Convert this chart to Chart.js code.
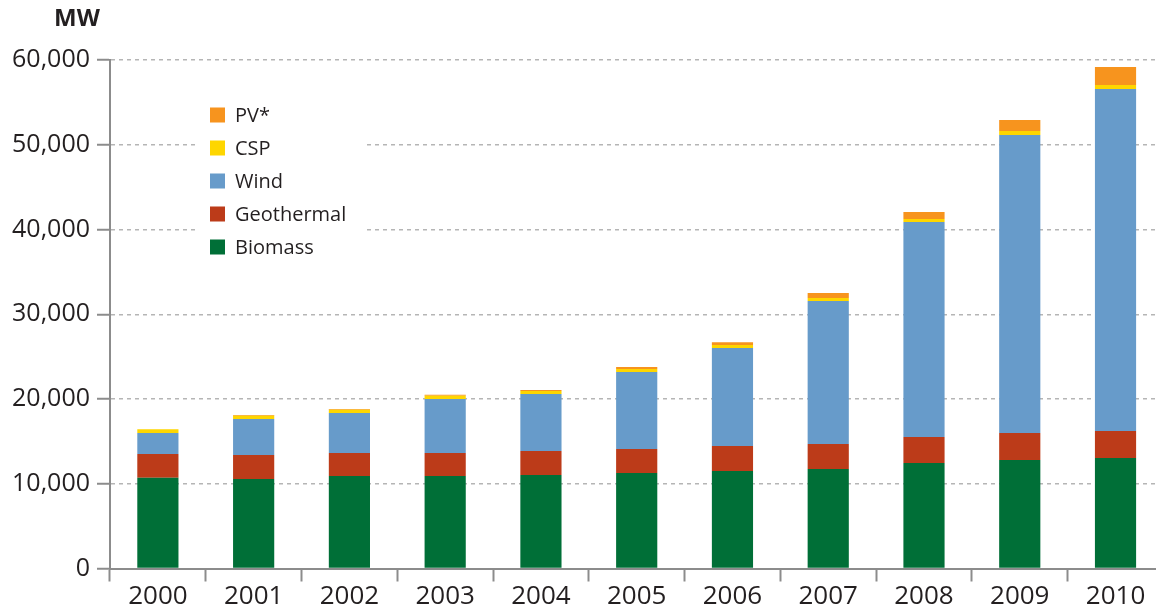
<!DOCTYPE html>
<html lang="en">
<head>
    <meta charset="UTF-8">
    <title>Renewable capacity (MW)</title>
    <script src="https://cdn.jsdelivr.net/npm/chart.js"></script>
    <style>
        body {
            margin: 0;
            padding: 0;
            background: #ffffff;
            overflow: hidden;
        }
        .wrap {
            width: 1170px;
            height: 606px;
        }
    </style>
</head>
<body>
    <div class="wrap"><canvas id="capacityChart"></canvas></div>

    <script>
        // values (MW)
        const years = ["2000", "2001", "2002", "2003", "2004", "2005", "2006", "2007", "2008", "2009", "2010"];
        const biomass = [10700, 10560, 10910, 10910, 11030, 11270, 11500, 11740, 12450, 12800, 13040];
        const geothermal = [2800, 2830, 2710, 2710, 2830, 2830, 2950, 2950, 3070, 3190, 3190];
        const wind = [2480, 4250, 4720, 6370, 6730, 9090, 11560, 16870, 25370, 35160, 40350];
        const csp = [450, 390, 390, 390, 350, 350, 350, 350, 350, 470, 470];
        const pv = [0, 80, 80, 120, 120, 240, 350, 590, 830, 1300, 2120];

        const yTicks = [0, 10000, 20000, 30000, 40000, 50000, 60000];

        const textColor = "#231f20";
        const fontFamily = "'Open Sans', 'Liberation Sans', sans-serif";

        // legend drawn inside the plot with a white box, top item = PV*
        const legendPlugin = {
            id: "boxLegend",
            afterDraw(chart) {
                const ctx = chart.ctx;
                ctx.save();
                ctx.fillStyle = "#ffffff";
                ctx.fillRect(195, 92, 170, 176);

                const items = chart.data.datasets.slice().reverse();
                ctx.font = "20px " + fontFamily;
                ctx.textBaseline = "middle";
                ctx.textAlign = "left";
                items.forEach((ds, i) => {
                    const y = 115 + i * 33;
                    ctx.fillStyle = ds.backgroundColor;
                    ctx.fillRect(210, y - 7.5, 15, 15);
                    ctx.fillStyle = textColor;
                    ctx.fillText(ds.label, 235, y + 1);
                });

                // unit label
                ctx.font = "bold 24px " + fontFamily;
                ctx.textAlign = "center";
                ctx.fillText("MW", 77, 19);
                ctx.restore();
            }
        };

        const ctx = document.getElementById("capacityChart").getContext("2d");
        const capacityChart = new Chart(ctx, {
            type: "bar",
            data: {
                labels: years,
                datasets: [
                    { label: "Biomass", data: biomass, backgroundColor: "#006f37" },
                    { label: "Geothermal", data: geothermal, backgroundColor: "#bc3b19" },
                    { label: "Wind", data: wind, backgroundColor: "#679bca" },
                    { label: "CSP", data: csp, backgroundColor: "#fed600" },
                    { label: "PV*", data: pv, backgroundColor: "#f7941e" }
                ]
            },
            options: {
                responsive: true,
                maintainAspectRatio: false,
                animation: false,
                layout: {
                    padding: { left: 0, right: 6.6, top: 60, bottom: 0 }
                },
                datasets: {
                    bar: {
                        categoryPercentage: 1,
                        barPercentage: 0.43,
                        borderWidth: 0
                    }
                },
                plugins: {
                    legend: { display: false },
                    tooltip: { enabled: false }
                },
                scales: {
                    x: {
                        stacked: true,
                        afterFit(scale) { scale.height = 37.5; },
                        grid: {
                            offset: true,
                            drawOnChartArea: false,
                            drawTicks: true,
                            tickLength: 13,
                            tickColor: "#8c8c8c",
                            tickWidth: 2
                        },
                        border: { display: true, color: "#8c8c8c", width: 2 },
                        ticks: {
                            color: textColor,
                            font: { family: fontFamily, size: 26 },
                            padding: -1,
                            maxRotation: 0
                        }
                    },
                    y: {
                        stacked: true,
                        min: 0,
                        max: 60000,
                        afterFit(scale) { scale.width = 110; },
                        afterBuildTicks(scale) {
                            scale.ticks = yTicks.map(v => ({ value: v }));
                        },
                        grid: {
                            color: "#b5b5b5",
                            lineWidth: 1.5,
                            drawTicks: true,
                            tickLength: 13,
                            tickColor: "#8c8c8c",
                            tickWidth: 2,
                            tickBorderDash: []
                        },
                        border: { display: true, color: "#8c8c8c", width: 2, dash: [4, 4] },
                        ticks: {
                            color: textColor,
                            font: { family: fontFamily, size: 25 },
                            padding: 7,
                            callback: v => Number(v).toLocaleString("en-US")
                        }
                    }
                }
            },
            plugins: [legendPlugin]
        });
    </script>
</body>
</html>
